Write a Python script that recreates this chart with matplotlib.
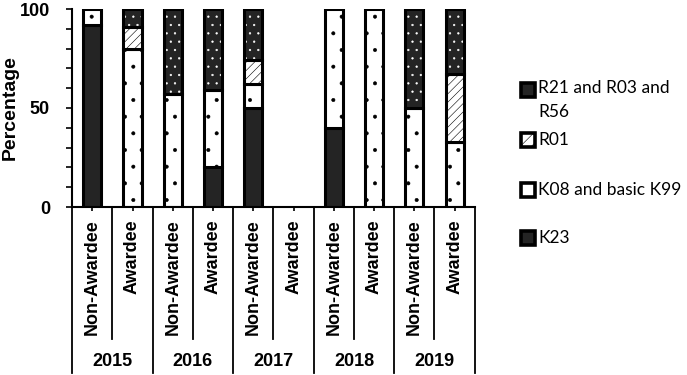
import matplotlib.pyplot as plt
import matplotlib.patches as mpatches
import matplotlib.transforms as mtransforms
import numpy as np

years = ["2015", "2016", "2017", "2018", "2019"]
groups = ["Non-Awardee", "Awardee"]
categories = [g for y in years for g in groups]

k23 = [92, 0, 0, 20, 50, 0, 40, 0, 0, 0]
k08 = [8, 80, 57, 39, 12, 0, 60, 100, 50, 33]
r01 = [0, 11, 0, 0, 12, 0, 0, 0, 0, 34]
r21 = [0, 9, 43, 41, 26, 0, 0, 0, 50, 33]

legend_labels = ["R21 and R03 and\nR56", "R01", "K08 and basic K99", "K23"]

plt.rcParams["hatch.linewidth"] = 0.4
dark = "#242424"
lw = 2.2
w = 0.45
lab_font = dict(fontsize=13, fontweight="bold", family="Liberation Sans")

fig = plt.figure(figsize=(6.87, 3.75), dpi=100)
ax = fig.add_axes([0.105, 0.448, 0.586, 0.528])

x = np.arange(len(categories))
b1 = np.array(k23)
b2 = b1 + np.array(k08)
b3 = b2 + np.array(r01)


def seg(vals, bottom, **kw):
    # skip empty segments so no zero-height outline shows
    vals = np.array(vals)
    m = vals > 0
    ax.bar(x[m], vals[m], w, bottom=np.asarray(bottom)[m], **kw)


seg(k23, np.zeros(len(x)), color=dark, edgecolor="black", linewidth=lw)
seg(k08, b1, color="white", edgecolor="black", linewidth=lw, hatch=".")
seg(r01, b2, color="white", edgecolor="black", linewidth=lw, hatch="////")
# dark segment with white dots, then black outline on top
seg(r21, b3, color=dark, edgecolor="white", linewidth=0, hatch="..")
seg(r21, b3, fill=False, edgecolor="black", linewidth=lw)

ax.set_xlim(-0.5, len(categories) - 0.5)
ax.set_ylim(0, 100)
ax.set_yticks([0, 50, 100])
ax.set_yticks(np.arange(0, 101, 10), minor=True)
ax.tick_params(axis="y", which="both", direction="out", length=4, width=1.2, pad=12)
for t in ax.get_yticklabels():
    t.set_fontweight("bold")
    t.set_fontfamily("Liberation Sans")
    t.set_fontsize(13)
ax.set_ylabel("Percentage", fontsize=14, fontweight="bold", family="Liberation Sans")
ax.yaxis.set_label_coords(-0.132, 0.5)

ax.set_xticks(x)
ax.set_xticklabels([])
ax.tick_params(axis="x", length=3, width=1.2)
for s in ["top", "right"]:
    ax.spines[s].set_visible(False)
for s in ["left", "bottom"]:
    ax.spines[s].set_linewidth(1.5)

trans = mtransforms.blended_transform_factory(ax.transData, ax.transAxes)
for i, c in enumerate(categories):
    ax.text(i, -0.06, c, rotation=90, ha="center", va="top", transform=trans, **lab_font)
for j, y in enumerate(years):
    ax.text(2 * j + 0.5, -0.78, y, ha="center", va="center", transform=trans, **lab_font)
for k in range(len(categories) + 1):
    xb = k - 0.5
    yb = -0.84 if k % 2 == 0 else -0.665
    ax.plot([xb, xb], [0, yb], color="black", lw=1.3, transform=trans, clip_on=False)

# legend drawn by hand (Excel-style uneven spacing)
leg_style = [
    dict(facecolor=dark, edgecolor="black"),
    dict(facecolor="white", edgecolor="black", hatch="///"),
    dict(facecolor="white", edgecolor="black"),
    dict(facecolor=dark, edgecolor="black"),
]
leg_y = [90, 140, 190, 238]
W, H = 687.0, 375.0
for lab, st, yp in zip(legend_labels, leg_style, leg_y):
    fig.patches.append(mpatches.Rectangle((521 / W, 1 - (yp + 7) / H), 14 / W, 14 / H,
                                          transform=fig.transFigure, linewidth=2.6, **st))
    two = "\n" in lab
    fig.text(538 / W, 1 - yp / H, lab, va="top" if two else "center", ha="left",
             family="Lato", fontsize=12.5, linespacing=1.6,
             transform=mtransforms.offset_copy(fig.transFigure, fig=fig, y=10 if two else 0, units="dots"))

fig.savefig("out.png", dpi=100)
